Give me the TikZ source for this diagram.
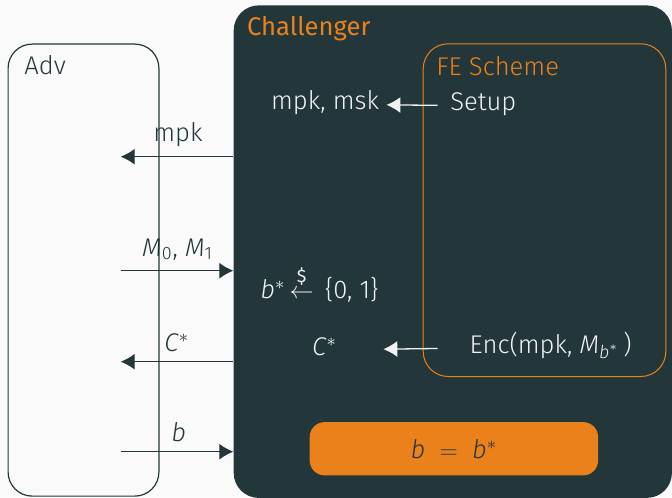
\documentclass[tikz,border=0pt]{standalone}
\usepackage{fontspec}
\setmainfont{Fira Sans}[UprightFont={* Light},ItalicFont={* Light Italic},BoldFont={* Regular}]
\usetikzlibrary{arrows.meta}
\definecolor{mteal}{HTML}{23373B}
\definecolor{morange}{HTML}{EB811B}
\definecolor{mbg}{HTML}{FAFAFA}
\definecolor{mwhite}{HTML}{F2F2F2}
\newcommand{\vv}[1]{\textit{#1}}
\newcommand{\stt}{$^{\ast}$}
\begin{document}
\begin{tikzpicture}[x=0.5pt,y=-0.5pt,
  font=\fontsize{12.8pt}{15pt}\selectfont,
  txt/.style={inner sep=0pt, anchor=base west},
  arr/.style={draw=mteal, line width=0.65pt, -{Latex[length=7pt,width=8pt]}},
  warr/.style={draw=mwhite, line width=0.65pt, -{Latex[length=7pt,width=8pt]}}]
\useasboundingbox[fill=mbg] (0,0) rectangle (672,497);
% boxes
\node[draw=mteal, line width=0.6pt, rounded corners=12pt, minimum width=75.4pt, minimum height=226pt, anchor=north west, inner sep=0pt] (adv) at (7.5,43.5) {};
\node[fill=mteal, rounded corners=12.5pt, minimum width=219.1pt, minimum height=246.25pt, anchor=north west, inner sep=0pt] (chal) at (233.3,5) {};
\node[draw=morange, line width=0.5pt, rounded corners=12.5pt, minimum width=121.3pt, minimum height=166.35pt, anchor=north west, inner sep=0pt] (fe) at (422.7,43.3) {};
\node[fill=morange, rounded corners=7.5pt, minimum width=144.2pt, minimum height=26.65pt, anchor=north west, inner sep=0pt] (res) at (309.3,421.7) {};
% titles
\node[txt, text=mteal] (advt) at (24,75) {Adv};
\node[txt, text=morange, font=\fontsize{12.8pt}{15pt}\selectfont\bfseries] (chalt) at (246.7,36) {Challenger};
\node[txt, text=morange] (fet) at (436,76) {FE Scheme};
% challenger contents
\node[txt, text=mwhite] (keys) at (270.7,110) {mpk, msk};
\node[txt, text=mwhite] (setup) at (450,110.7) {Setup};
\node[txt, text=mwhite] (bstar) at (260,298) {\vv{b}\stt\,$\stackrel{\raisebox{1.5pt}{\fontsize{9pt}{9pt}\selectfont\bfseries\$}}{\leftarrow}$\ \,\{0,\ 1\}};
\node[txt, text=mwhite] (cstar) at (311.7,355) {\vv{C}\stt};
\node[txt, text=mwhite] (enc) at (469.3,353.3) {Enc(mpk,\ \vv{M}\textsubscript{\vv{b}$^{\ast}$}\,)};
\node[text=mteal, inner sep=0pt] (restxt) at (res.center) {\vv{b}\ \ $=$\ \ \vv{b}\stt};
\draw[warr, shorten <=6.15pt, shorten >=3.5pt] (setup.mid west) -- (keys.mid east);
\draw[warr, shorten <=15.8pt, shorten >=23pt] (enc.mid west) -- (cstar.mid east);
% adversary side
\coordinate (a1) at (120.7,156.7);
\coordinate (a2) at (120.7,270.7);
\coordinate (a3) at (120.7,361.7);
\coordinate (a4) at (120.7,451.7);
\draw[arr] (chal.west |- a1) -- (a1);
\draw[arr] (a2) -- (chal.west |- a2);
\draw[arr] (chal.west |- a3) -- (a3);
\draw[arr] (a4) -- (chal.west |- a4);
\node[txt, text=mteal] (l1) at (153,141.7) {mpk};
\node[txt, text=mteal] (l2) at (141.7,256) {\vv{M}\textsubscript{0}\/,\ \vv{M}\textsubscript{1}};
\node[txt, text=mteal] (l3) at (164,351.7) {\vv{C}\stt};
\node[txt, text=mteal] (l4) at (171,441.7) {\vv{b}};
\end{tikzpicture}
\end{document}
